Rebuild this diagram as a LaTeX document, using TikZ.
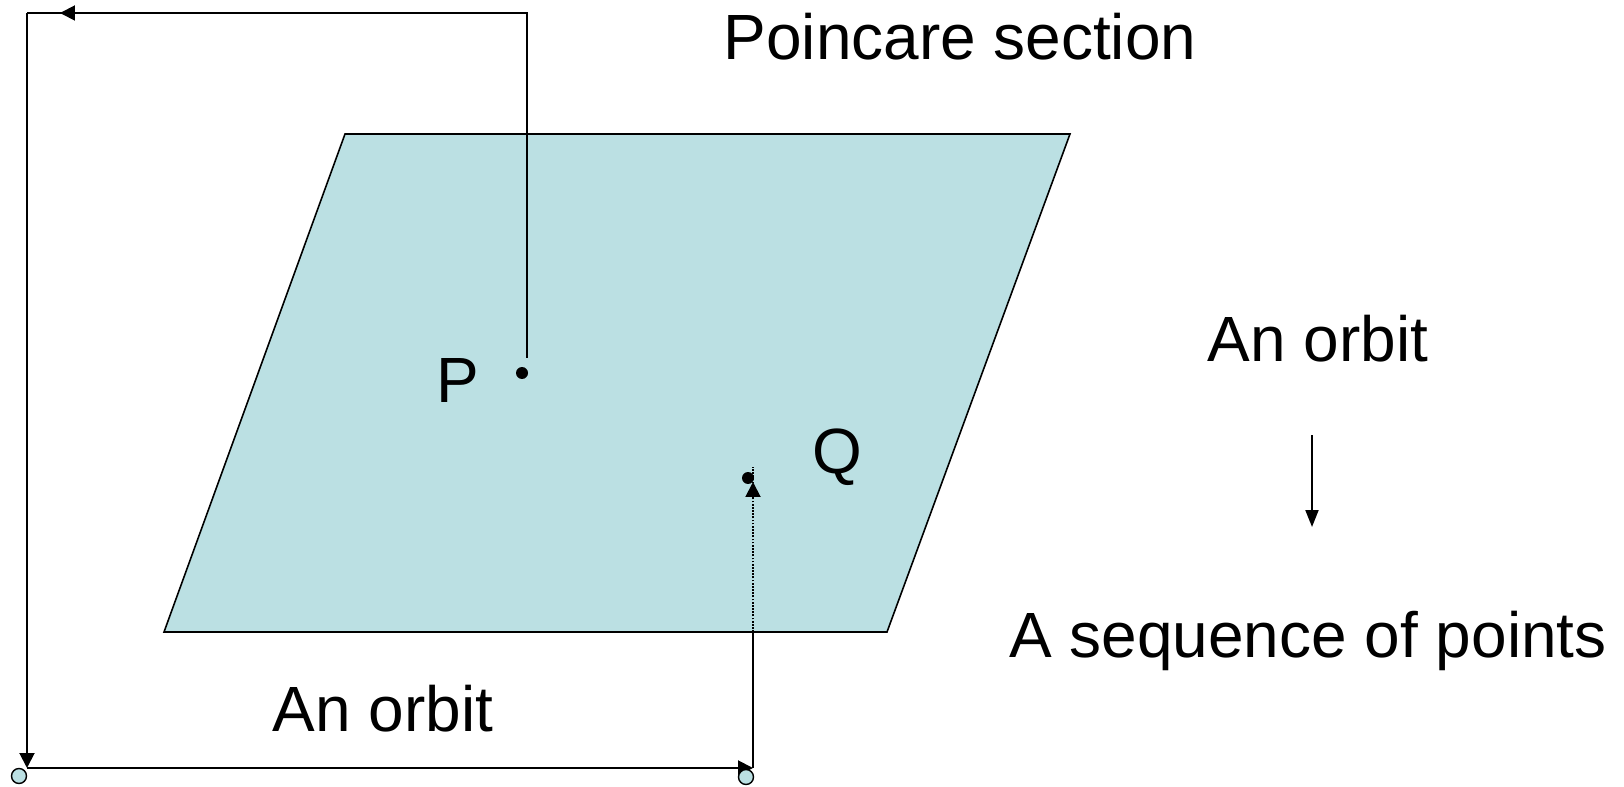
\documentclass[tikz,border=0pt]{standalone}
\usepackage{fontspec}
\setmainfont{Liberation Sans}
\usetikzlibrary{arrows.meta}
\definecolor{csection}{HTML}{BBE0E3}
\tikzset{
  every picture/.style={line width=1.1pt},
  orbit/.style={draw=black, line width=1.1pt},
  arrow/.style={-{Triangle[length=0.3cm, width=0.3cm]}, draw=black, line width=1.1pt},
  dots/.style={dash pattern=on 1pt off 0.8pt},
  txt/.style={font=\fontsize{36.4}{40}\selectfont, anchor=base, inner sep=0pt},
  dot/.style={circle, fill=black, inner sep=0pt, minimum size=0.24cm},
  endpt/.style={circle, draw=black, fill=csection, inner sep=0pt, minimum size=0.3cm, line width=0.8pt},
}

\begin{document}
\begin{tikzpicture}[x=0.02cm, y=-0.02cm]
  \useasboundingbox (0,0) rectangle (1624,787);
  % the section
  \draw[fill=csection, line width=0.9pt] (345,134) -- (1070,134) -- (887,632) -- (164,632) -- cycle;
  \node[dot] (p) at (522,373) {};
  \node[dot] (q) at (748,478) {};
  \node[txt] (plab) at (458,402) {P};
  \node[txt] (qlab) at (837,473) {Q};
  \node[txt] (title) at (960,60) {Poincare section};
  % the orbit
  \coordinate (pstart) at (527,358);
  \coordinate (ptop) at (527,13);
  \coordinate (tl) at (27,13);
  \coordinate (larr) at (60,13);
  \coordinate (bl) at (27,768);
  \coordinate (br) at (753,768);
  \coordinate (edge) at (753,632);
  \coordinate (qarr) at (753,482);
  \coordinate (qtop) at (753,467);
  \draw[orbit] (pstart) -- (ptop) -- (tl);
  \draw[arrow] (ptop) -- (larr);
  \draw[arrow] (tl) -- (bl);
  \draw[arrow] (bl) -- (br);
  \draw[orbit] (br) -- (edge);
  \draw[orbit, dots] (edge) -- (qtop);
  \draw[arrow, dots] (edge) -- (qarr);
  \node[endpt] (o1) at (19,776) {};
  \node[endpt] (o2) at (746,777) {};
  \node[txt] (orb1) at (383,731) {An orbit};
  % the map
  \node[txt] (orb2) at (1318,362) {An orbit};
  \node[txt] (seq) at (1308,657) {A sequence of points};
  \coordinate (mtop) at (1312,435);
  \coordinate (mbot) at (1312,527);
  \draw[arrow, -{Triangle[length=0.34cm, width=0.26cm]}] (mtop) -- (mbot);
\end{tikzpicture}
\end{document}
